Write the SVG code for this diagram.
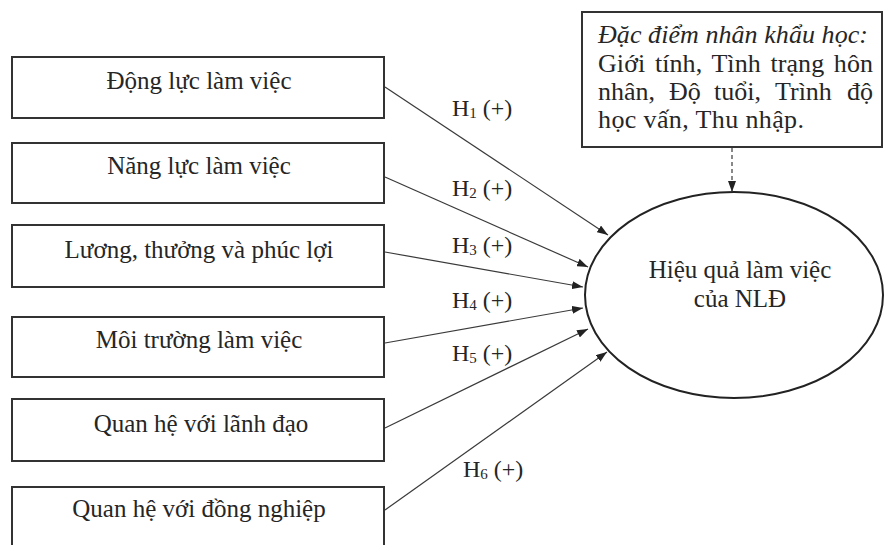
<svg xmlns="http://www.w3.org/2000/svg" width="886" height="545" viewBox="0 0 886 545">
<style>
.box{fill:#fff;stroke:#333;stroke-width:2}
.t{font-family:"Liberation Serif","Times New Roman",serif;font-size:25px;fill:#262626}
.c{text-anchor:middle}
.d{font-size:26px}
.it{font-style:italic}
.con{stroke:#3a3a3a;stroke-width:1.2;fill:none}
.lbl{font-family:"Liberation Serif","Times New Roman",serif;font-size:24px;fill:#262626}
.sub{font-size:15px}
</style>
<defs>
<marker id="ah" markerUnits="userSpaceOnUse" markerWidth="11" markerHeight="8" refX="11" refY="4" orient="auto">
<path d="M0,0 L11,4 L0,8 z" fill="#222"/>
</marker>
</defs>
<rect width="886" height="545" fill="#fff"/>
<g id="n1"><rect class="box" x="12" y="57" width="372" height="61"/><text class="t c" x="199" y="89">Động lực làm việc</text></g>
<g id="n2"><rect class="box" x="12" y="143" width="372" height="60"/><text class="t c" x="199" y="174">Năng lực làm việc</text></g>
<g id="n3"><rect class="box" x="12" y="225" width="372" height="62"/><text class="t c" x="199" y="258">Lương, thưởng và phúc lợi</text></g>
<g id="n4"><rect class="box" x="12" y="317" width="372" height="60"/><text class="t c" x="199" y="348">Môi trường làm việc</text></g>
<g id="n5"><rect class="box" x="12" y="399" width="372" height="62"/><text class="t c" x="201" y="432">Quan hệ với lãnh đạo</text></g>
<g id="n6"><rect class="box" x="12" y="487" width="372" height="80"/><text class="t c" x="199" y="517">Quan hệ với đồng nghiệp</text></g>
<g id="demo"><rect class="box" x="582" y="12" width="300" height="135"/>
<text class="t d it" x="598" y="43" textLength="270" lengthAdjust="spacing">Đặc điểm nhân khẩu học:</text>
<text class="t d" x="598" y="72" textLength="275" lengthAdjust="spacing" word-spacing="3">Giới tính, Tình trạng hôn</text>
<text class="t d" x="598" y="100">nhân,</text>
<text class="t d" x="669" y="100">Độ</text>
<text class="t d" x="714" y="100">tuổi,</text>
<text class="t d" x="775" y="100">Trình</text>
<text class="t d" x="873" y="100" text-anchor="end">độ</text>
<text class="t d" x="598" y="128" textLength="206" lengthAdjust="spacing">học vấn, Thu nhập.</text>
</g>
<g id="outcome"><ellipse cx="734" cy="295" rx="149" ry="103" fill="#fff" stroke="#222" stroke-width="2"/>
<text class="t c" x="740" y="278">Hiệu quả làm việc</text>
<text class="t c" x="740" y="307">của NLĐ</text>
</g>
<g id="connectors">
<line class="con" x1="385" y1="87" x2="608" y2="235" marker-end="url(#ah)"/>
<line class="con" x1="385" y1="177" x2="588" y2="267" marker-end="url(#ah)"/>
<line class="con" x1="385" y1="252" x2="583" y2="287" marker-end="url(#ah)"/>
<line class="con" x1="385" y1="343" x2="583" y2="308" marker-end="url(#ah)"/>
<line class="con" x1="385" y1="428" x2="588" y2="329" marker-end="url(#ah)"/>
<line class="con" x1="385" y1="510" x2="607" y2="352" marker-end="url(#ah)"/>
<line class="con" x1="732" y1="148" x2="732" y2="192" stroke-dasharray="4,3" marker-end="url(#ah)"/>
<text class="lbl" x="452" y="116">H<tspan class="sub" dy="2">1</tspan><tspan dy="-2"> (+)</tspan></text>
<text class="lbl" x="452" y="196">H<tspan class="sub" dy="2">2</tspan><tspan dy="-2"> (+)</tspan></text>
<text class="lbl" x="452" y="253">H<tspan class="sub" dy="2">3</tspan><tspan dy="-2"> (+)</tspan></text>
<text class="lbl" x="452" y="308">H<tspan class="sub" dy="2">4</tspan><tspan dy="-2"> (+)</tspan></text>
<text class="lbl" x="452" y="361">H<tspan class="sub" dy="2">5</tspan><tspan dy="-2"> (+)</tspan></text>
<text class="lbl" x="463" y="477">H<tspan class="sub" dy="2">6</tspan><tspan dy="-2"> (+)</tspan></text>
</g>
</svg>
